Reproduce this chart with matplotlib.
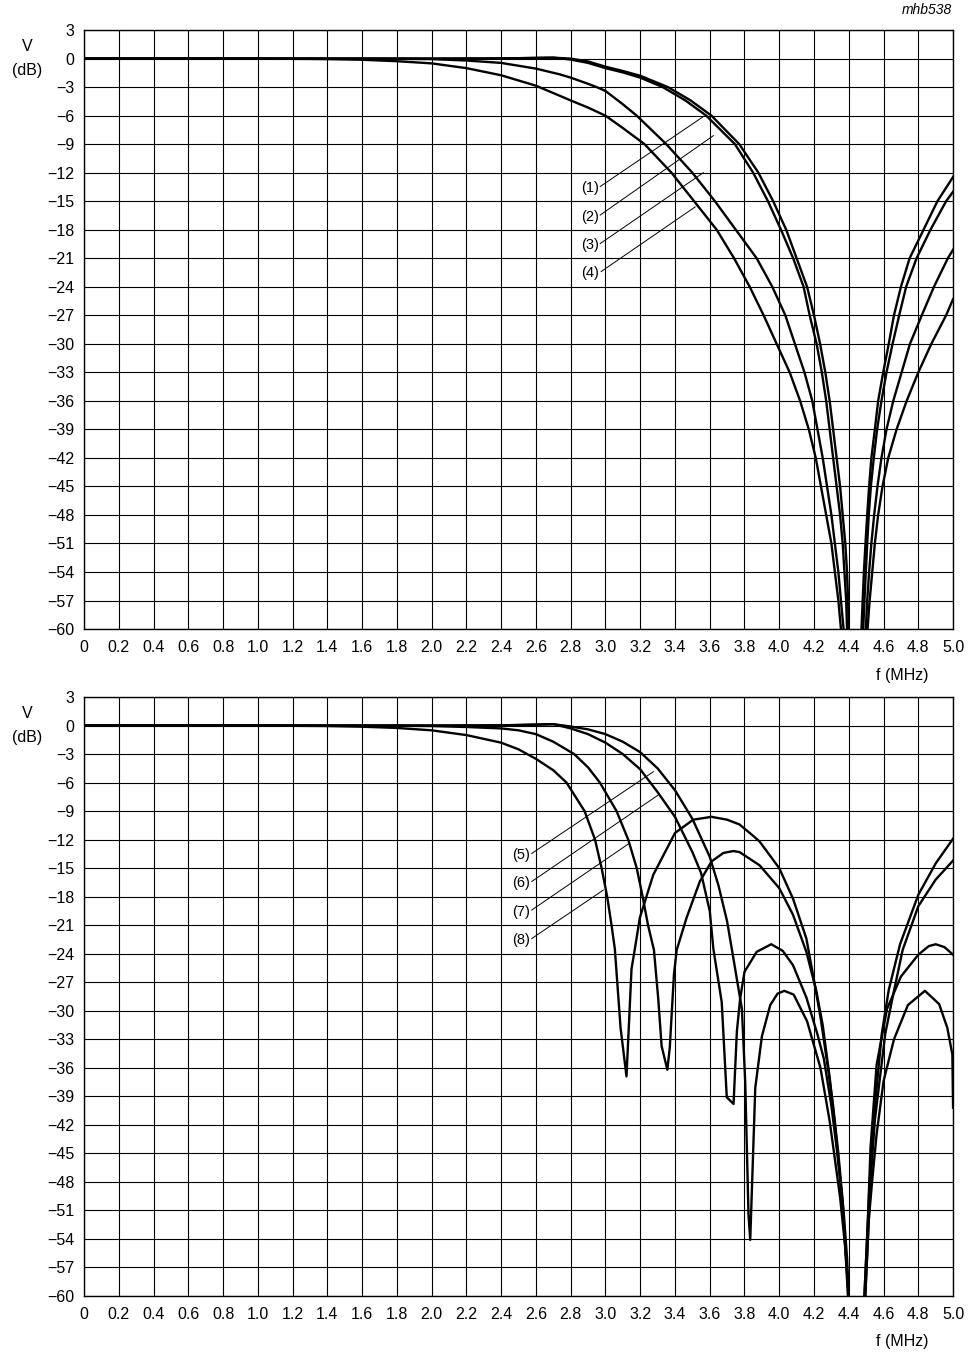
import matplotlib
matplotlib.use('Agg')
import matplotlib.pyplot as plt

plt.rcParams['font.family'] = ['Liberation Sans', 'DejaVu Sans']

# axis ticks
freq_ticks = [0, 0.2, 0.4, 0.6, 0.8, 1.0, 1.2, 1.4, 1.6, 1.8, 2.0, 2.2, 2.4,
              2.6, 2.8, 3.0, 3.2, 3.4, 3.6, 3.8, 4.0, 4.2, 4.4, 4.6, 4.8, 5.0]
freq_labels = ['0'] + ['%.1f' % f for f in freq_ticks[1:]]
db_ticks = [3, 0, -3, -6, -9, -12, -15, -18, -21, -24, -27, -30, -33, -36,
            -39, -42, -45, -48, -51, -54, -57, -60]

# ---- upper panel, curves (1)..(4) ----
f1 = [0, 1.0, 1.6, 2.0, 2.4, 2.7, 2.8, 2.9, 3.0, 3.1, 3.2, 3.36, 3.49, 3.61,
      3.77, 3.88, 3.965, 4.04, 4.10, 4.16, 4.20, 4.235, 4.265, 4.29, 4.31,
      4.33, 4.35, 4.365, 4.38, 4.39, 4.396, 4.40, 4.437, 4.473, 4.48, 4.487,
      4.496, 4.506, 4.517, 4.53, 4.55, 4.569, 4.598, 4.63, 4.66, 4.70, 4.75,
      4.83, 4.91, 5.0]
v1 = [0, 0, 0, 0, 0.02, 0.1, 0.0, -0.3, -0.85, -1.3, -1.8, -3, -4.4, -6,
      -9, -12, -15, -18, -21, -24, -27, -30, -33, -36, -39,
      -42, -45, -48, -51, -54, -57, -60, -85, -60, -57, -54,
      -51, -48, -45, -42, -39, -36, -33, -30, -27, -24, -21,
      -18, -15, -12.45]

f2 = [0, 1.0, 1.6, 2.0, 2.4, 2.7, 2.8, 2.9, 3.0, 3.1, 3.2, 3.33, 3.46, 3.58,
      3.745, 3.85, 3.935, 4.01, 4.08, 4.14, 4.175, 4.215, 4.245, 4.27, 4.29,
      4.31, 4.33, 4.35, 4.365, 4.375, 4.385, 4.39, 4.436, 4.483, 4.49, 4.498,
      4.506, 4.515, 4.527, 4.544, 4.563, 4.588, 4.617, 4.652, 4.69, 4.73,
      4.79, 4.87, 4.96, 5.0]
v2 = [0, 0, 0, 0, 0.02, 0.1, -0.1, -0.45, -1.0, -1.45, -2.0, -3, -4.4, -6,
      -9, -12, -15, -18, -21, -24, -27, -30, -33, -36, -39,
      -42, -45, -48, -51, -54, -57, -60, -85, -60, -57, -54,
      -51, -48, -45, -42, -39, -36, -33, -30, -27, -24,
      -21, -18, -15, -14.0]

f3 = [0, 1.0, 1.8, 2.0, 2.2, 2.4, 2.6, 2.736, 2.8, 2.9, 2.95, 3.0, 3.1, 3.18,
      3.35, 3.50, 3.63, 3.75, 3.87, 3.96, 4.035, 4.09, 4.145, 4.19, 4.22,
      4.25, 4.275, 4.30, 4.32, 4.34, 4.355, 4.37, 4.434, 4.498, 4.506, 4.517,
      4.53, 4.546, 4.565, 4.588, 4.617, 4.656, 4.704, 4.752, 4.82, 4.89,
      4.97, 5.0]
v3 = [0, 0, -0.02, -0.05, -0.2, -0.45, -1.05, -1.65, -2.0, -2.65, -3, -3.4, -4.8, -6,
      -9, -12, -15, -18, -21, -24, -27, -30, -33, -36, -39,
      -42, -45, -48, -51, -54, -57, -60, -85, -60, -57, -54,
      -51, -48, -45, -42, -39, -36, -33, -30, -27, -24,
      -21, -20.1]

f4 = [0, 1.0, 1.4, 1.6, 1.8, 2.0, 2.2, 2.4, 2.6, 2.736, 2.8, 2.9, 3.0, 3.1,
      3.225, 3.38, 3.51, 3.64, 3.74, 3.83, 3.91, 3.985, 4.06, 4.12, 4.17,
      4.21, 4.24, 4.27, 4.30, 4.32, 4.34, 4.355, 4.43, 4.508, 4.52, 4.535,
      4.55, 4.569, 4.594, 4.627, 4.675, 4.733, 4.80, 4.875, 4.96, 5.0]
v4 = [0, 0, -0.05, -0.12, -0.27, -0.5, -1.0, -1.75, -2.85, -3.9, -4.4, -5.15, -6.0, -7.3,
      -9, -12, -15, -18, -21, -24, -27, -30, -33, -36, -39,
      -42, -45, -48, -51, -54, -57, -60, -85, -60, -57, -54,
      -51, -48, -45, -42, -39, -36, -33, -30, -27, -25.3]

# ---- lower panel, curves (5)..(8) ----
f5 = [0, 1.0, 2.0, 2.4, 2.6, 2.7, 2.8, 2.9, 3.0, 3.1, 3.2, 3.3, 3.4, 3.5, 3.6,
      3.65, 3.7, 3.727, 3.785, 3.804, 3.823, 3.833, 3.862, 3.90, 3.948,
      3.99, 4.029, 4.083, 4.16, 4.237, 4.29, 4.35, 4.38, 4.40, 4.445, 4.495,
      4.515, 4.535, 4.56, 4.60, 4.66, 4.74, 4.838, 4.92, 4.967, 4.996, 5.0]
v5 = [0, 0, 0, 0.02, 0.1, 0.15, -0.1, -0.4, -0.9, -1.7, -2.8, -4.5, -6.8, -9.8, -13.8,
      -16.8, -20.6, -23.5, -29.8, -37.4, -51.4, -54.1, -38.1, -32.7, -29.4,
      -28.2, -27.9, -28.3, -31.1, -36, -41.6, -49.6, -55, -60, -85, -60,
      -52, -47.8, -43, -37.4, -33, -29.4, -27.9, -29.3, -31.8, -34.6, -40.2]

f6 = [0, 1.0, 2.0, 2.4, 2.6, 2.7, 2.8, 2.9, 3.0, 3.1, 3.2, 3.3, 3.4, 3.5, 3.55,
      3.6, 3.621, 3.669, 3.698, 3.737, 3.756, 3.775, 3.80, 3.87, 3.954,
      4.02, 4.079, 4.156, 4.22, 4.256, 4.30, 4.33, 4.37, 4.39, 4.40, 4.445,
      4.49, 4.51, 4.525, 4.56, 4.62, 4.70, 4.8, 4.86, 4.9, 4.95, 5.0]
v6 = [0, 0, 0, 0.02, 0.1, 0.15, -0.3, -0.9, -1.8, -3.0, -4.6, -7.0, -9.6, -13.3, -15.5,
      -19.5, -23.5, -29.1, -39.1, -39.8, -32.2, -28.7, -25.9, -23.8, -23.0,
      -23.7, -25.2, -28.6, -32.5, -35.0, -40.0, -44.4, -51, -56, -60, -85,
      -60, -52, -44.4, -35.7, -29.8, -26.4, -24.1, -23.2, -23.0, -23.3, -24.1]

f7 = [0, 1.0, 1.8, 2.0, 2.2, 2.4, 2.5, 2.6, 2.7, 2.82, 2.9, 2.968, 3.064, 3.131,
      3.18, 3.214, 3.245, 3.279, 3.304, 3.323, 3.356, 3.37, 3.394, 3.41,
      3.467, 3.543, 3.61, 3.678, 3.735, 3.771, 3.887, 4.0, 4.079, 4.156,
      4.213, 4.25, 4.29, 4.32, 4.35, 4.37, 4.385, 4.398, 4.445, 4.495,
      4.51, 4.525, 4.55, 4.61, 4.66, 4.71, 4.8, 4.9, 5.0]
v7 = [0, 0, -0.02, -0.05, -0.15, -0.3, -0.5, -0.9, -1.7, -3, -4.4, -6, -9, -12,
      -15, -18, -21, -23.6, -28.8, -33.7, -36.2, -33.9, -26.2, -23.6,
      -20.2, -16.4, -14.3, -13.4, -13.2, -13.3, -14.7, -17.1, -19.9, -23.8,
      -27.9, -31.5, -37, -42, -47.5, -52, -56, -60, -85, -60,
      -54, -48, -41.5, -32.4, -27.9, -23.6, -19.0, -16.2, -14.2]

f8 = [0, 1.0, 1.4, 1.6, 1.8, 2.0, 2.2, 2.3, 2.4, 2.5, 2.55, 2.6, 2.7, 2.776,
      2.88, 2.94, 2.978, 3.01, 3.035, 3.054, 3.087, 3.121, 3.15, 3.169, 3.198,
      3.275, 3.40, 3.505, 3.61, 3.70, 3.771, 3.85, 3.887, 4.0, 4.079, 4.156,
      4.204, 4.24, 4.28, 4.31, 4.34, 4.365, 4.38, 4.395, 4.445, 4.49, 4.505,
      4.52, 4.545, 4.59, 4.63, 4.695, 4.8, 4.9, 5.0]
v8 = [0, 0, -0.05, -0.12, -0.25, -0.5, -1.0, -1.4, -1.8, -2.5, -3.0, -3.5, -4.7, -6,
      -9, -12, -15, -18, -21, -23.5, -31.8, -36.9, -25.6, -23.5, -20.2,
      -15.7, -11.3, -9.9, -9.6, -9.9, -10.4, -11.6, -12.2, -15.0, -18.2, -22.4,
      -27.2, -31, -36, -40, -45, -50, -55, -60, -85, -60, -54,
      -48, -41, -32.4, -27.8, -23.0, -17.8, -14.5, -11.9]

# leader lines: (label, text x, text y, tip x, tip y)
top_labels = [('(1)', 2.97, -13.45, 3.563, -6.1),
              ('(2)', 2.97, -16.45, 3.621, -8.1),
              ('(3)', 2.97, -19.45, 3.563, -12.0),
              ('(4)', 2.975, -22.4, 3.516, -15.6)]
bottom_labels = [('(5)', 2.576, -13.45, 3.276, -4.85),
                 ('(6)', 2.576, -16.4, 3.304, -7.3),
                 ('(7)', 2.576, -19.4, 3.132, -12.45),
                 ('(8)', 2.576, -22.4, 2.988, -17.3)]

top_curves = [(f1, v1), (f2, v2), (f3, v3), (f4, v4)]
bottom_curves = [(f5, v5), (f6, v6), (f7, v7), (f8, v8)]

fig = plt.figure(figsize=(9.75, 13.56), dpi=100)
ax_top = fig.add_axes([0.0862, 0.5361, 0.8913, 0.4417])
ax_bot = fig.add_axes([0.0862, 0.04425, 0.8913, 0.4417])


def setup_axes(ax):
    ax.set_xlim(0, 5.0)
    ax.set_ylim(-60, 3)
    ax.set_xticks(freq_ticks)
    ax.set_xticklabels(freq_labels)
    ax.set_yticks(db_ticks)
    ax.set_yticklabels(['%d' % d if d >= 0 else '\u2212%d' % -d for d in db_ticks])
    ax.grid(True, color='black', linewidth=0.8)
    ax.set_axisbelow(True)
    ax.tick_params(length=0, labelsize=11.5, colors='black')
    ax.tick_params(axis='x', pad=8)
    ax.tick_params(axis='y', pad=7)
    for sp in ax.spines.values():
        sp.set_color('black')
        sp.set_linewidth(1.0)
    ax.text(-0.0656, 0.972, 'V', transform=ax.transAxes, ha='center',
            va='center', fontsize=11.5)
    ax.text(-0.0656, 0.933, '(dB)', transform=ax.transAxes, ha='center',
            va='center', fontsize=11.5)
    ax.text(0.9413, -0.0768, 'f (MHz)', transform=ax.transAxes, ha='center',
            va='center', fontsize=11.5)


def draw_curves(ax, curves, labels):
    for f, v in curves:
        ax.plot(f, v, color='black', linewidth=1.7, solid_joinstyle='round')
    for name, x0, y0, x1, y1 in labels:
        ax.plot([x0, x1], [y0, y1], color='black', linewidth=0.7)
        ax.text(x0 - 0.01, y0 - 0.2, name, ha='right', va='center',
                fontsize=10.5)


setup_axes(ax_top)
setup_axes(ax_bot)
draw_curves(ax_top, top_curves, top_labels)
draw_curves(ax_bot, bottom_curves, bottom_labels)

fig.text(0.976, 0.9925, 'mhb538', ha='right', va='center', fontsize=10,
         style='italic')

fig.savefig('out.png', dpi=100)
